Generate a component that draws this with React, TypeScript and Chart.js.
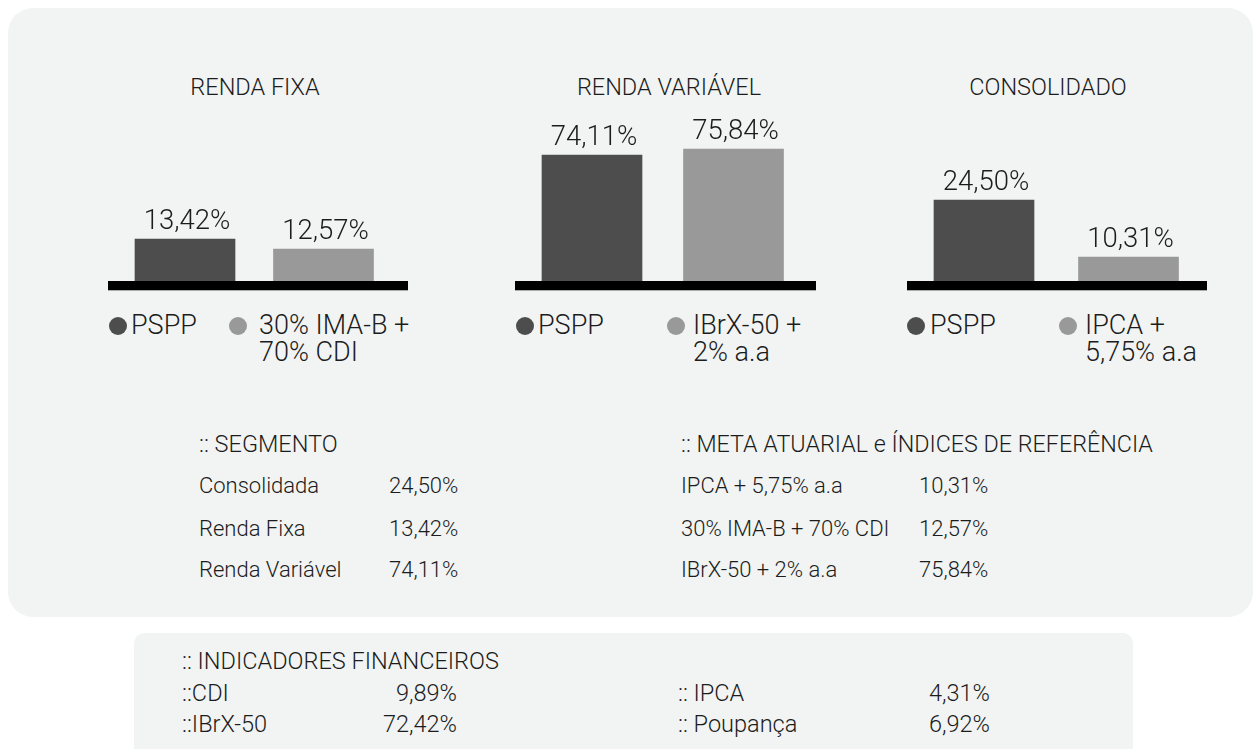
import React, { useEffect, useRef } from 'react';
import { Chart, registerables } from 'chart.js';

Chart.register(...registerables);

// ---------- data ----------
const chartTitles = ['RENDA FIXA', 'RENDA VARIÁVEL', 'CONSOLIDADO'];
const rendaFixaLabels = ['PSPP', '30% IMA-B + 70% CDI'];
const rendaFixaValues = [13.42, 12.57];
const rendaVariavelLabels = ['PSPP', 'IBrX-50 + 2% a.a'];
const rendaVariavelValues = [74.11, 75.84];
const consolidadoLabels = ['PSPP', 'IPCA + 5,75% a.a'];
const consolidadoValues = [24.5, 10.31];
const legendFirst = ['PSPP', 'PSPP', 'PSPP'];
const legendSecond = [
  ['30% IMA-B +', '70% CDI'],
  ['IBrX-50 +', '2% a.a'],
  ['IPCA +', '5,75% a.a'],
];
const segmentoTitle = ':: SEGMENTO';
const segmentoNames = ['Consolidada', 'Renda Fixa', 'Renda Variável'];
const segmentoValues = [24.5, 13.42, 74.11];
const metaTitle = ':: META ATUARIAL e ÍNDICES DE REFERÊNCIA';
const metaNames = ['IPCA + 5,75% a.a', '30% IMA-B + 70% CDI', 'IBrX-50 + 2% a.a'];
const metaValues = [10.31, 12.57, 75.84];
const indicadoresTitle = ':: INDICADORES FINANCEIROS';
const indicadorNamesLeft = ['::CDI', '::IBrX-50'];
const indicadorValuesLeft = [9.89, 72.42];
const indicadorNamesRight = [':: IPCA', ':: Poupança'];
const indicadorValuesRight = [4.31, 6.92];

// ---------- style ----------
const FONT = 'Roboto, "Noto Sans", sans-serif';
const WEIGHT = 300;
const TEXT = '#1c1c1c';
const DARK = '#4d4d4d';
const LIGHT = '#999999';
const BOX = '#f1f4f3';

const fmt = (v: number) => v.toFixed(2).replace('.', ',') + '%';

type TxtProps = {
  x: number;
  baseline: number;
  size: number;
  align?: 'left' | 'center' | 'right';
  lineHeight?: number;
  children: React.ReactNode;
};

function Txt({ x, baseline, size, align = 'left', lineHeight, children }: TxtProps) {
  const L = lineHeight ?? size;
  const top = baseline - L / 2 - 0.342 * size;
  const style: React.CSSProperties = {
    position: 'absolute',
    top,
    fontFamily: FONT,
    fontWeight: WEIGHT,
    fontSize: size,
    lineHeight: `${L}px`,
    color: TEXT,
    whiteSpace: 'nowrap',
  };
  if (align === 'left') style.left = x;
  else if (align === 'right') style.right = 1253 - x;
  else {
    style.left = x;
    style.transform = 'translateX(-50%)';
  }
  return <div style={style}>{children}</div>;
}

function Dot({ cx, cy, color }: { cx: number; cy: number; color: string }) {
  const d = 18;
  return (
    <div
      style={{
        position: 'absolute',
        left: cx - d / 2,
        top: cy - d / 2,
        width: d,
        height: d,
        borderRadius: '50%',
        background: color,
      }}
    />
  );
}

type MiniBarProps = {
  left: number;
  width: number;
  labels: string[];
  values: number[];
  yMin: number;
  yMax: number;
  padL: number;
  padR: number;
};

const CANVAS_TOP = 100;
const CANVAS_H = 192;

function MiniBar({ left, width, labels, values, yMin, yMax, padL, padR }: MiniBarProps) {
  const ref = useRef<HTMLCanvasElement>(null);
  useEffect(() => {
    const baseline = {
      id: 'baseline',
      afterDatasetsDraw(chart: any) {
        const { ctx, chartArea } = chart;
        ctx.save();
        ctx.fillStyle = '#000000';
        ctx.fillRect(0, chartArea.bottom, chart.width, 9.3);
        ctx.restore();
      },
    };
    const valueLabels = {
      id: 'valueLabels',
      afterDatasetsDraw(chart: any) {
        const { ctx } = chart;
        const meta = chart.getDatasetMeta(0);
        const data = chart.data.datasets[0].data as number[];
        ctx.save();
        ctx.font = `${WEIGHT} 27.5px ${FONT}`;
        ctx.fillStyle = TEXT;
        ctx.textAlign = 'center';
        ctx.textBaseline = 'alphabetic';
        meta.data.forEach((bar: any, i: number) => {
          ctx.fillText(fmt(data[i]), bar.x + 2, bar.y - 10);
        });
        ctx.restore();
      },
    };
    const chart = new Chart(ref.current as HTMLCanvasElement, {
      type: 'bar',
      data: {
        labels,
        datasets: [
          {
            data: values,
            backgroundColor: [DARK, LIGHT],
            borderWidth: 0,
            barThickness: 100,
          },
        ],
      },
      options: {
        animation: false,
        responsive: false,
        maintainAspectRatio: false,
        events: [],
        layout: { padding: { left: padL, right: padR, top: 0, bottom: CANVAS_H - 181 } },
        plugins: {
          legend: { display: false },
          tooltip: { enabled: false },
          title: { display: false },
        },
        scales: {
          x: { display: false },
          y: { display: false, min: yMin, max: yMax, beginAtZero: false },
        },
      },
      plugins: [baseline, valueLabels],
    });
    return () => chart.destroy();
  }, []);
  return (
    <canvas
      ref={ref}
      width={width}
      height={CANVAS_H}
      style={{ position: 'absolute', left, top: CANVAS_TOP, width, height: CANVAS_H }}
    />
  );
}

export default function App() {
  const legendX = [
    { d1: 117.5, t1: 131, d2: 238, t2: 259 },
    { d1: 524.5, t1: 538, d2: 675.5, t2: 693 },
    { d1: 916, t1: 930, d2: 1067.5, t2: 1085 },
  ];
  const titleX = [255, 669, 1048];
  const rowBase = [494, 536.5, 578];
  return (
    <div
      style={{
        position: 'absolute',
        left: 0,
        top: 0,
        width: 1253,
        height: 749,
        overflow: 'hidden',
        background: '#ffffff',
      }}
    >
      <div
        style={{
          position: 'absolute',
          left: 8,
          top: 8,
          width: 1245,
          height: 609,
          borderRadius: 25,
          background: BOX,
        }}
      />
      <div
        style={{
          position: 'absolute',
          left: 134,
          top: 633,
          width: 999,
          height: 140,
          borderRadius: 10,
          background: BOX,
        }}
      />

      {chartTitles.map((t, i) => (
        <Txt key={t} x={titleX[i]} baseline={96} size={23.5} align="center">
          {t}
        </Txt>
      ))}

      <MiniBar left={108} width={300} labels={rendaFixaLabels} values={rendaFixaValues}
        yMin={9.85} yMax={25.235} padL={7.75} padR={15.25} />
      <MiniBar left={515} width={301} labels={rendaVariavelLabels} values={rendaVariavelValues}
        yMin={37.78} yMax={89.97} padL={6.25} padR={11.75} />
      <MiniBar left={907} width={300} labels={consolidadoLabels} values={consolidadoValues}
        yMin={4.34} yMax={49.4} padL={4.75} padR={6.25} />

      {legendX.map((p, i) => (
        <React.Fragment key={i}>
          <Dot cx={p.d1} cy={326} color={DARK} />
          <Txt x={p.t1} baseline={335} size={27}>
            {legendFirst[i]}
          </Txt>
          <Dot cx={p.d2} cy={326} color={LIGHT} />
          <Txt x={p.t2} baseline={335} size={27} lineHeight={27}>
            {legendSecond[i][0]}
            <br />
            {legendSecond[i][1]}
          </Txt>
        </React.Fragment>
      ))}

      <Txt x={199} baseline={453} size={23.5}>
        {segmentoTitle}
      </Txt>
      {segmentoNames.map((n, i) => (
        <React.Fragment key={n}>
          <Txt x={199} baseline={rowBase[i]} size={22}>
            {n}
          </Txt>
          <Txt x={389} baseline={rowBase[i]} size={22}>
            {fmt(segmentoValues[i])}
          </Txt>
        </React.Fragment>
      ))}

      <Txt x={681} baseline={453} size={23.3}>
        {metaTitle}
      </Txt>
      {metaNames.map((n, i) => (
        <React.Fragment key={n}>
          <Txt x={681} baseline={rowBase[i]} size={22}>
            {n}
          </Txt>
          <Txt x={919} baseline={rowBase[i]} size={22}>
            {fmt(metaValues[i])}
          </Txt>
        </React.Fragment>
      ))}

      <Txt x={182} baseline={670} size={23.5}>
        {indicadoresTitle}
      </Txt>
      {indicadorNamesLeft.map((n, i) => (
        <React.Fragment key={n}>
          <Txt x={182} baseline={702 + i * 31} size={23.5}>
            {n}
          </Txt>
          <Txt x={457} baseline={702 + i * 31} size={23.5} align="right">
            {fmt(indicadorValuesLeft[i])}
          </Txt>
        </React.Fragment>
      ))}
      {indicadorNamesRight.map((n, i) => (
        <React.Fragment key={n}>
          <Txt x={678} baseline={702 + i * 31} size={23.5}>
            {n}
          </Txt>
          <Txt x={990} baseline={702 + i * 31} size={23.5} align="right">
            {fmt(indicadorValuesRight[i])}
          </Txt>
        </React.Fragment>
      ))}
    </div>
  );
}
